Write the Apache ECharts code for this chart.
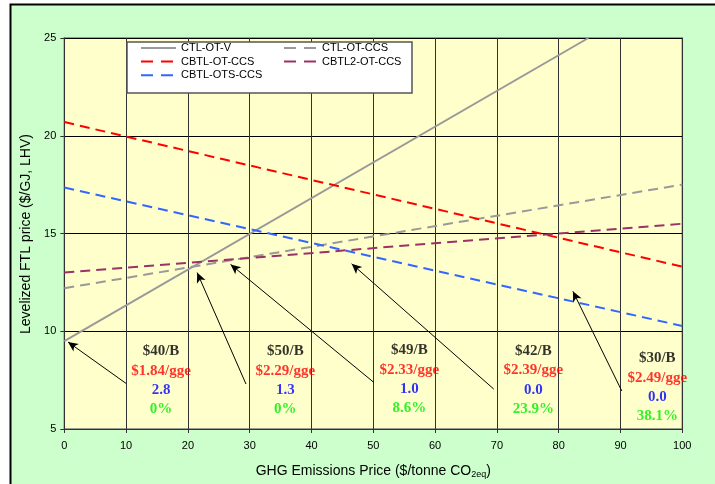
<!DOCTYPE html>
<html>
<head>
<meta charset="utf-8">
<script src="https://cdn.jsdelivr.net/npm/echarts@6/dist/echarts.min.js"></script>
<style>
  html, body { margin: 0; padding: 0; background: #ffffff; }
  #chart { width: 715px; height: 484px; }
</style>
</head>
<body>
<div id="chart"></div>
<script>
// Levelized fuel price lines, [carbon price, $/GJ] end points
const ctlOtV = [[0, 9.5], [84.8, 25]];
const ctlOtCcs = [[0, 12.2], [100, 17.5]];
const cbtlOtCcs = [[0, 20.7], [100, 13.3]];
const cbtl2OtCcs = [[0, 13.0], [100, 15.5]];
const cbtlOtsCcs = [[0, 17.35], [100, 10.27]];

// Breakeven annotation texts
const oilPrices = ['$40/B', '$50/B', '$49/B', '$42/B', '$30/B'];
const ggePrices = ['$1.84/gge', '$2.29/gge', '$2.33/gge', '$2.39/gge', '$2.49/gge'];
const ghgRatios = ['2.8', '1.3', '1.0', '0.0', '0.0'];
const bioShares = ['0%', '0%', '8.6%', '23.9%', '38.1%'];

// Annotation anchors and arrows (data units)
const noteAnchors = [[15.65, 7.48], [35.76, 7.48], [55.83, 7.54], [75.9, 7.5], [95.95, 7.13]];
const arrowTails = [[10.0, 7.33], [29.4, 7.30], [50.1, 7.38], [69.5, 7.04], [90.2, 6.95]];
const arrowHeads = [[0.6, 9.45], [21.5, 13.0], [26.9, 13.42], [46.5, 13.45], [82.3, 12.04]];

const xTicks = { min: 0, max: 100, step: 10 };
const yTicks = { min: 5, max: 25, step: 5 };

const chart = echarts.init(document.getElementById('chart'), null, { renderer: 'canvas' });

const dash = [10, 6];
const legendDash = [12, 8];
function lineSeries(name, data, color, type) {
  return {
    name: name,
    type: 'line',
    data: data,
    symbol: 'none',
    showSymbol: false,
    silent: true,
    clip: true,
    z: 3,
    lineStyle: { color: color, width: 2, type: type },
    itemStyle: { color: color }
  };
}

function legendItem(name, dashed) {
  const item = { name: name };
  if (dashed) item.lineStyle = { type: legendDash };
  return item;
}

const serif = 'Liberation Serif, Times New Roman, serif';
const sans = 'Liberation Sans, Arial, sans-serif';

const legendCommon = {
  orient: 'vertical', top: 42.3, padding: 0,
  itemHeight: 14, itemGap: 2.5,
  itemStyle: { opacity: 0 },
  textStyle: { fontFamily: sans, fontSize: 11, color: '#000' },
  selectedMode: false
};

const option = {
  animation: false,
  backgroundColor: '#ffffff',
  grid: {
    left: 64.3, top: 38, right: 32.7, bottom: 54,
    show: true,
    backgroundColor: '#FFFFCC',
    borderColor: '#808080',
    borderWidth: 1.5
  },
  graphic: [
    {
      type: 'rect', z: -10,
      shape: { x: 10.5, y: 4.5, width: 760, height: 520 },
      style: { fill: '#CCFFCC', stroke: '#000000', lineWidth: 2 }
    },
    {
      type: 'rect', z: 3,
      shape: { x: 127, y: 42, width: 285, height: 51 },
      style: { fill: '#ffffff', stroke: '#555555', lineWidth: 1.5 }
    },
    {
      type: 'text', z: 5,
      x: 26, y: 234, rotation: Math.PI / 2,
      style: {
        text: 'Levelized FTL price ($/GJ, LHV)',
        fontFamily: sans, fontSize: 14, fill: '#000000',
        align: 'center', verticalAlign: 'middle'
      }
    }
  ],
  legend: [
    Object.assign({}, legendCommon, {
      left: 140, itemWidth: 35,
      data: [legendItem('CTL-OT-V', false), legendItem('CBTL-OT-CCS', true), legendItem('CBTL-OTS-CCS', true)]
    }),
    Object.assign({}, legendCommon, {
      left: 283, itemWidth: 33,
      data: [legendItem('CTL-OT-CCS', true), legendItem('CBTL2-OT-CCS', true)]
    })
  ],
  xAxis: {
    type: 'value',
    min: xTicks.min, max: xTicks.max, interval: xTicks.step,
    name: 'GHG Emissions Price ($/tonne CO{sub|2eq})',
    nameLocation: 'middle', nameGap: 34,
    nameTextStyle: {
      fontFamily: sans, fontSize: 14, color: '#000',
      rich: { sub: { fontFamily: sans, fontSize: 9, color: '#000', padding: [7, 0, 0, 0] } }
    },
    axisLine: { show: true, lineStyle: { color: '#333', width: 1 } },
    axisTick: { show: true, length: 4, lineStyle: { color: '#333' } },
    axisLabel: { fontFamily: sans, fontSize: 11, color: '#000', margin: 11 },
    splitLine: { show: true, lineStyle: { color: '#333', width: 1 } }
  },
  yAxis: {
    type: 'value',
    min: yTicks.min, max: yTicks.max, interval: yTicks.step,
    axisLine: { show: true, lineStyle: { color: '#333', width: 1 } },
    axisTick: { show: true, length: 4, lineStyle: { color: '#333' } },
    axisLabel: { fontFamily: sans, fontSize: 11, color: '#000', margin: 8 },
    splitLine: { show: true, lineStyle: { color: '#000', width: 1 } }
  },
  series: [
    lineSeries('CTL-OT-V', ctlOtV, '#999999', 'solid'),
    lineSeries('CTL-OT-CCS', ctlOtCcs, '#999999', dash),
    lineSeries('CBTL-OT-CCS', cbtlOtCcs, '#FF0000', dash),
    lineSeries('CBTL2-OT-CCS', cbtl2OtCcs, '#993366', dash),
    lineSeries('CBTL-OTS-CCS', cbtlOtsCcs, '#3366FF', dash),
    {
      name: 'notes',
      type: 'scatter',
      data: noteAnchors,
      symbolSize: 0,
      silent: true,
      z: 6,
      label: {
        show: true,
        position: 'inside',
        align: 'center',
        verticalAlign: 'middle',
        formatter: function (p) {
          const i = p.dataIndex;
          return '{a|' + oilPrices[i] + '}\n{b|' + ggePrices[i] + '}\n{c|' + ghgRatios[i] + '}\n{d|' + bioShares[i] + '}';
        },
        rich: {
          a: { fontFamily: serif, fontWeight: 'bold', fontSize: 15, color: '#000000', lineHeight: 19.3, align: 'center' },
          b: { fontFamily: serif, fontWeight: 'bold', fontSize: 15, color: '#FF0000', lineHeight: 19.3, align: 'center' },
          c: { fontFamily: serif, fontWeight: 'bold', fontSize: 15, color: '#0000FF', lineHeight: 19.3, align: 'center' },
          d: { fontFamily: serif, fontWeight: 'bold', fontSize: 15, color: '#00EE00', lineHeight: 19.3, align: 'center' }
        }
      },
      markLine: {
        silent: true,
        symbol: ['none', 'arrow'],
        symbolSize: [7, 10],
        label: { show: false },
        lineStyle: { color: '#000000', width: 1, type: 'solid' },
        data: arrowTails.map(function (t, i) {
          return [{ coord: t }, { coord: arrowHeads[i] }];
        })
      }
    }
  ]
};

chart.setOption(option);
</script>
</body>
</html>
